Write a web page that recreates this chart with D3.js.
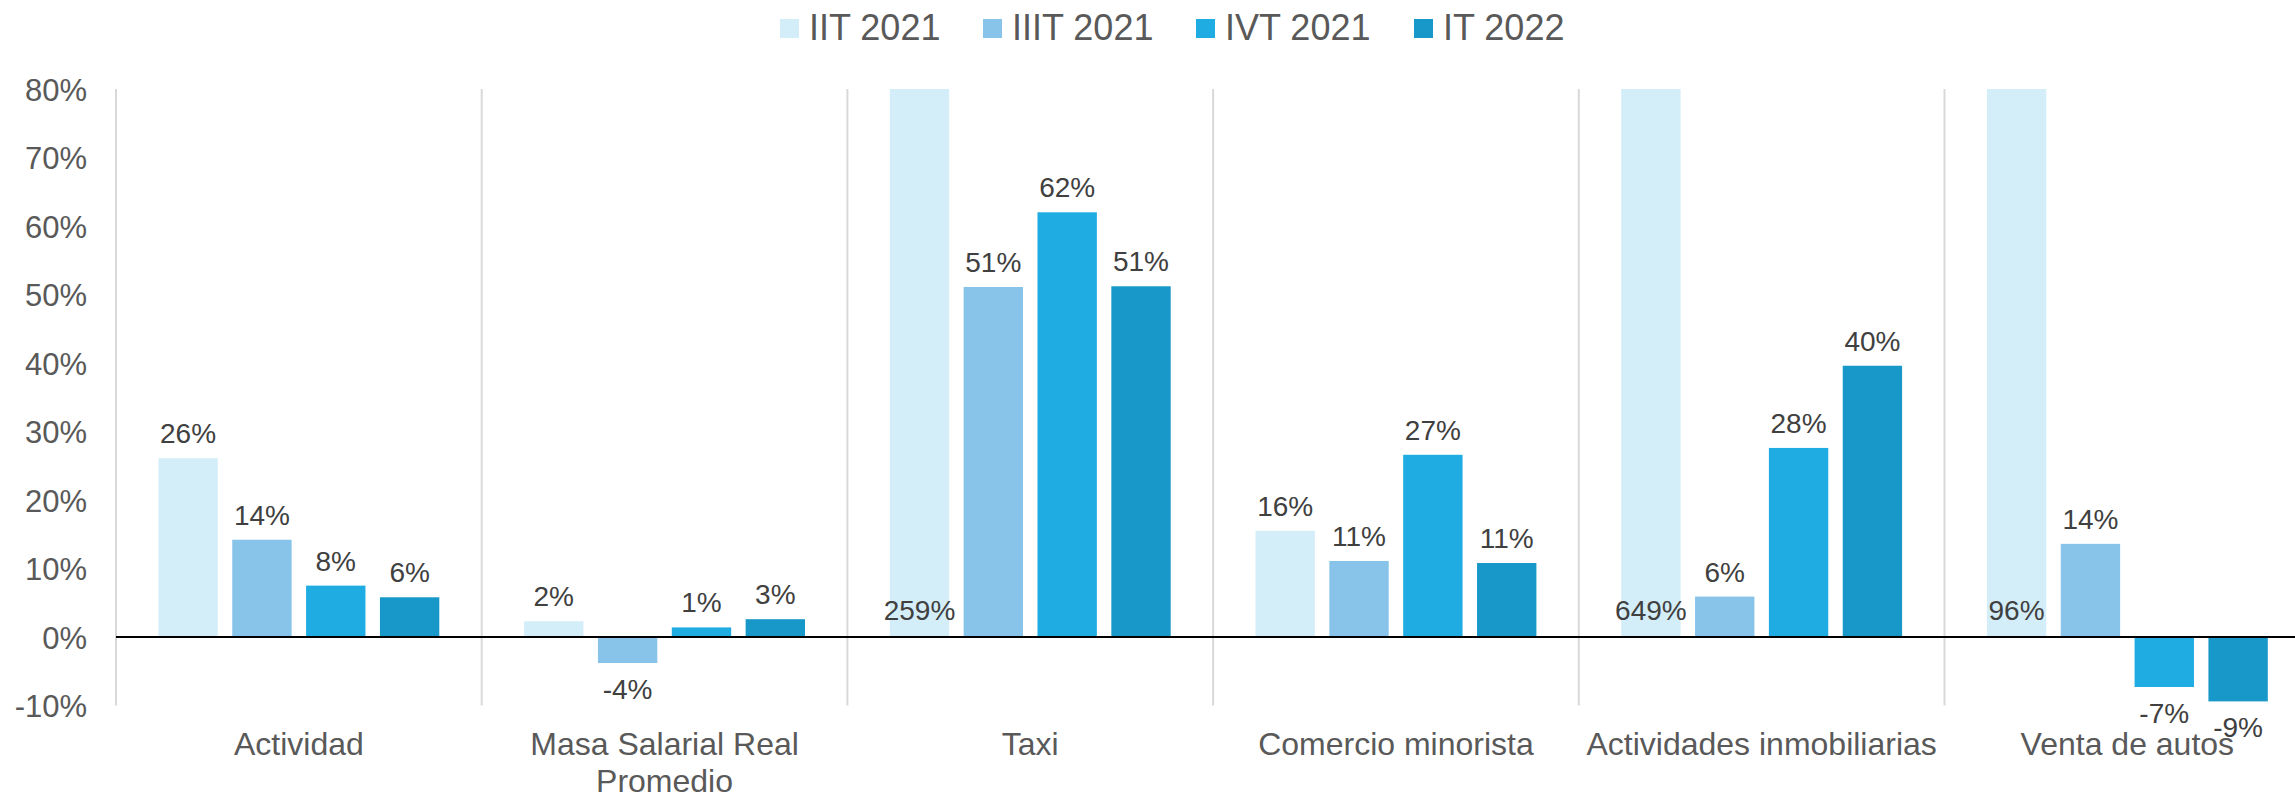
<!DOCTYPE html>
<html>
<head>
<meta charset="utf-8">
<script src="https://cdn.jsdelivr.net/npm/d3@7"></script>
<style>
  html, body { margin: 0; padding: 0; background: #ffffff; }
  svg { display: block; font-family: "Liberation Sans", Arial, sans-serif; }
</style>
</head>
<body>
<svg id="chart" width="2295" height="794"></svg>
<script>
// ---- data ----
const categories = ["Actividad", "Masa Salarial Real Promedio", "Taxi", "Comercio minorista", "Actividades inmobiliarias", "Venta de autos"];
const seriesNames = ["IIT 2021", "IIIT 2021", "IVT 2021", "IT 2022"];
const seriesColors = ["#d4eef9", "#88c4ea", "#1eace2", "#1898c9"];
const valuesIIT2021  = [26.1, 2.3, 259, 15.5, 649, 96];
const valuesIIIT2021 = [14.2, -3.8, 51.1, 11.1, 5.9, 13.6];
const valuesIVT2021  = [7.5, 1.4, 62.0, 26.6, 27.6, -7.3];
const valuesIT2022   = [5.8, 2.6, 51.2, 10.8, 39.6, -9.4];
const yTicks = [-10, 0, 10, 20, 30, 40, 50, 60, 70, 80];
const yDomain = [-10, 80];

(function () {
const seriesValues = [valuesIIT2021, valuesIIIT2021, valuesIVT2021, valuesIT2022];
const rows = categories.map((c, i) => ({
  category: c,
  values: seriesNames.map((s, k) => ({ series: s, k: k, value: seriesValues[k][i] }))
}));

// ---- layout ----
const svg = d3.select("#chart");
const plotLeft = 116, catW = 365.7;
const plotTop = 89, plotBottom = 705.5;
const plotRight = plotLeft + catW * categories.length;

const x0 = d3.scaleBand().domain(categories).range([plotLeft, plotRight]).padding(0);
const outerPad = 42.4;
const x1 = d3.scaleBand().domain(seriesNames)
  .range([outerPad, catW - outerPad]).paddingInner(0.196).paddingOuter(0);
const y = d3.scaleLinear().domain(yDomain).range([plotBottom, plotTop]);
const color = d3.scaleOrdinal().domain(seriesNames).range(seriesColors);
const fmt = v => Math.round(v) + "%";

svg.append("defs").append("clipPath").attr("id", "plotclip")
  .append("rect").attr("x", plotLeft).attr("y", plotTop)
  .attr("width", plotRight - plotLeft).attr("height", plotBottom - plotTop);

// category separators (and left axis line)
const seps = categories.map(c => x0(c)).concat([plotRight]);
svg.append("g").selectAll("line").data(seps).join("line")
  .attr("x1", d => d).attr("x2", d => d)
  .attr("y1", plotTop).attr("y2", plotBottom)
  .attr("stroke", "#d9d9d9").attr("stroke-width", 2);

// y axis labels
const yAxis = d3.axisLeft(y).tickValues(yTicks).tickSize(0).tickPadding(29)
  .tickFormat(d => d + "%");
const yg = svg.append("g").attr("transform", `translate(${plotLeft},0)`).call(yAxis);
yg.select(".domain").remove();
yg.selectAll("text")
  .attr("font-family", "'Liberation Sans', Arial, sans-serif")
  .attr("font-size", 31).attr("fill", "#595959").attr("dy", "0.36em");

// bars
const groups = svg.append("g").attr("clip-path", "url(#plotclip)")
  .selectAll("g").data(rows).join("g")
  .attr("transform", d => `translate(${x0(d.category)},0)`);
groups.selectAll("rect").data(d => d.values).join("rect")
  .attr("x", d => x1(d.series))
  .attr("width", x1.bandwidth())
  .attr("y", d => y(Math.max(0, d.value)))
  .attr("height", d => Math.abs(y(d.value) - y(0)))
  .attr("fill", d => color(d.series));

// zero line
svg.append("line")
  .attr("x1", plotLeft).attr("x2", plotRight)
  .attr("y1", y(0)).attr("y2", y(0))
  .attr("stroke", "#000000").attr("stroke-width", 2);

// value labels
const yMax = yDomain[1];
const labelG = svg.append("g").selectAll("g").data(rows).join("g")
  .attr("transform", d => `translate(${x0(d.category)},0)`);
labelG.selectAll("text").data(d => d.values).join("text")
  .attr("x", d => x1(d.series) + x1.bandwidth() / 2)
  .attr("y", d => {
    if (d.value > yMax) return y(0) - 17;
    if (d.value >= 0) return y(d.value) - 15;
    return y(d.value) + 36;
  })
  .attr("text-anchor", "middle")
  .attr("font-size", 28)
  .attr("fill", "#404040")
  .text(d => fmt(d.value));

// category labels (wrapped)
const catG = svg.append("g");
categories.forEach(c => {
  const cx = x0(c) + x0.bandwidth() / 2;
  const t = catG.append("text")
    .attr("x", cx)
    .attr("y", 755)
    .attr("text-anchor", "middle")
    .attr("font-size", 32)
    .attr("fill", "#595959");
  const words = c.split(" ");
  let line = [];
  let tspan = t.append("tspan").attr("x", cx).attr("dy", 0);
  words.forEach(w => {
    line.push(w);
    tspan.text(line.join(" "));
    if (tspan.node().getComputedTextLength() > 362 && line.length > 1) {
      line.pop();
      tspan.text(line.join(" "));
      line = [w];
      tspan = t.append("tspan").attr("x", cx).attr("dy", 37).text(w);
    }
  });
});

// legend
const legendX = [780, 983, 1196, 1414];
const lg = svg.append("g").selectAll("g").data(seriesNames).join("g")
  .attr("transform", (d, i) => `translate(${legendX[i]},0)`);
lg.append("rect").attr("x", 0).attr("y", 19).attr("width", 19).attr("height", 19)
  .attr("fill", d => color(d));
lg.append("text").attr("x", 29).attr("y", 40)
  .attr("font-size", 36).attr("fill", "#595959")
  .text(d => d);
})();
</script>
</body>
</html>
